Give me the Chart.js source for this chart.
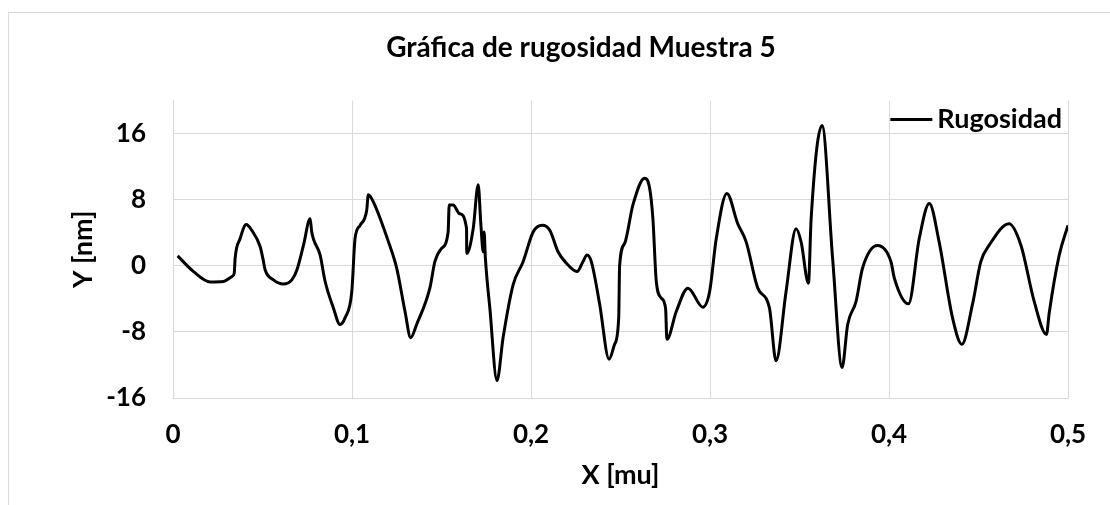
<!DOCTYPE html>
<html>
<head>
<meta charset="utf-8">
<script src="https://cdn.jsdelivr.net/npm/chart.js@4.4.1/dist/chart.umd.min.js"></script>
<style>
  html, body { margin: 0; padding: 0; background: #fff; overflow: hidden; width: 1110px; height: 505px; }
  #frame { position: absolute; left: 8px; top: 12px; width: 1200px; height: 600px; border: 1px solid #d9d9d9; }
  #chart { position: absolute; left: 0; top: 0; }
</style>
</head>
<body>
<div id="frame"><canvas id="chart" width="1144" height="493"></canvas></div>
<script>
// Perfil de rugosidad (X en mu, Y en nm)
const xValues = [
  0.0026, 0.0115, 0.0208, 0.0282, 0.0329, 0.0342, 0.0347, 0.0375, 0.0409, 0.0440,
  0.0487, 0.0502, 0.0515, 0.0561, 0.0617, 0.0664, 0.0692, 0.0729, 0.0766, 0.0775,
  0.0822, 0.0850, 0.0896, 0.0933, 0.0961, 0.0999, 0.1017, 0.1045, 0.1082, 0.1091,
  0.1119, 0.1207, 0.1250, 0.1296, 0.1328, 0.1361, 0.1435, 0.1463, 0.1500, 0.1537,
  0.1543, 0.1565, 0.1602, 0.1640, 0.1641, 0.1677, 0.1705, 0.1720, 0.1733, 0.1738,
  0.1745, 0.1770, 0.1810, 0.1844, 0.1900, 0.1956, 0.2012, 0.2064, 0.2105, 0.2151,
  0.2198, 0.2257, 0.2290, 0.2313, 0.2337, 0.2384, 0.2436, 0.2467, 0.2490, 0.2495,
  0.2523, 0.2569, 0.2635, 0.2663, 0.2681, 0.2700, 0.2728, 0.2752, 0.2759, 0.2812,
  0.2877, 0.2960, 0.2998, 0.3035, 0.3094, 0.3155, 0.3202, 0.3267, 0.3332, 0.3369,
  0.3425, 0.3481, 0.3509, 0.3550, 0.3565, 0.3626, 0.3685, 0.3738, 0.3769, 0.3816,
  0.3852, 0.3936, 0.4011, 0.4030, 0.4109, 0.4169, 0.4225, 0.4280, 0.4355, 0.4407,
  0.4466, 0.4513, 0.4560, 0.4671, 0.4737, 0.4811, 0.4880, 0.4895, 0.4951, 0.5000
];
const yValues = [
   1.2, -0.7, -1.95, -1.9, -1.3, -0.9,  0.9,  3.3,  5.0,  4.3,
   2.3,  0.9, -0.5, -1.7, -2.2, -1.7, -0.5,  2.5,  5.7,  4.1,
   1.3, -1.9, -5.1, -7.1, -6.3, -3.1,  3.3,  4.9,  6.7,  8.6,
   7.75, 2.7, -0.3, -5.5, -8.7, -7.1, -2.7,  0.5,  2.1,  4.1,
   7.35, 7.35, 6.3,  4.5,  1.5,  4.5,  9.8,  5.0,  1.7,  4.1,
   1.0, -5.1, -13.9, -8.7, -2.3,  0.5,  4.1,  4.9,  4.3,  1.7,
   0.3, -0.7,  0.5,  1.3,  0.5, -4.7, -11.3, -9.5, -6.3,  0.0,
   2.7,  7.35, 10.6, 9.35, 5.7, -1.9, -3.9, -5.2, -8.9, -5.5,
  -2.7, -5.0, -3.1,  3.3,  8.75, 5.1,  2.9, -2.7, -5.1, -11.5,
  -3.1,  4.5,  2.9, -2.1,  5.7, 17.0,  0.9, -12.3, -7.1, -4.3,
  -0.3,  2.45, 0.5, -1.5, -4.6,  3.3,  7.55, 2.9, -6.3, -9.5,
  -4.7,  0.5,  2.5,  5.1,  2.5, -4.3, -8.3, -5.7,  1.3,  4.9
];
const xTicks = [0, 0.1, 0.2, 0.3, 0.4, 0.5];
const yTicks = [-16, -8, 0, 8, 16];
const seriesLabel = 'Rugosidad';

const FONT = 'Lato, "Open Sans", sans-serif';
const GRID = '#d9d9d9';

const points = xValues.map((x, i) => ({ x, y: yValues[i] }));

// leyenda dentro del área de trazado, arriba a la derecha (como en Excel)
const insideLegend = {
  id: 'insideLegend',
  afterDraw(chart) {
    const { ctx, chartArea } = chart;
    const ds = chart.data.datasets[0];
    ctx.save();
    ctx.font = 'bold 27px ' + FONT;
    ctx.fillStyle = '#000';
    ctx.textBaseline = 'middle';
    ctx.textAlign = 'right';
    const y = chartArea.top + 19;
    const right = chartArea.right - 6;
    const w = ctx.measureText(ds.label).width;
    ctx.fillText(ds.label, right, y);
    const lineEnd = right - w - 5;
    ctx.strokeStyle = ds.borderColor;
    ctx.lineWidth = 3;
    ctx.beginPath();
    ctx.moveTo(lineEnd - 42, y);
    ctx.lineTo(lineEnd, y);
    ctx.stroke();
    ctx.restore();
  }
};

new Chart(document.getElementById('chart'), {
  type: 'line',
  data: {
    datasets: [{
      label: seriesLabel,
      data: points,
      borderColor: '#000',
      borderWidth: 3,
      pointRadius: 0,
      cubicInterpolationMode: 'monotone',
      fill: false,
    }]
  },
  options: {
    responsive: false,
    animation: false,
    layout: { padding: { left: 85, right: 85, top: 0, bottom: 0 } },
    plugins: {
      legend: { display: false },
      tooltip: { enabled: false },
      title: {
        display: true,
        text: 'Gráfica de rugosidad Muestra 5',
        color: '#000',
        font: { family: FONT, size: 28, weight: 'bold' },
        padding: { top: 18, bottom: 36 },
      },
    },
    scales: {
      x: {
        type: 'linear',
        min: 0, max: 0.5,
        afterBuildTicks(scale) { scale.ticks = xTicks.map(v => ({ value: v })); },
        afterFit(scale) { scale.height = 108; },
        grid: { color: GRID, lineWidth: 1, drawTicks: false },
        border: { color: GRID, width: 1 },
        ticks: {
          color: '#000', padding: 21,
          font: { family: FONT, size: 26, weight: 'bold' },
          callback: v => (v === 0 ? '0' : v.toFixed(1).replace('.', ',')),
        },
        title: {
          display: true, text: 'X [mu]', color: '#000',
          font: { family: FONT, size: 27, weight: 'bold' },
          padding: { top: 0, bottom: 15 },
        },
      },
      y: {
        min: -16, max: 20,
        afterBuildTicks(scale) { scale.ticks = yTicks.map(v => ({ value: v })); },
        afterFit(scale) { scale.width = 79; },
        grid: { color: GRID, lineWidth: 1, drawTicks: false },
        border: { color: GRID, width: 1 },
        ticks: {
          color: '#000', padding: 27,
          font: { family: FONT, size: 26, weight: 'bold' },
        },
        title: {
          display: true, text: 'Y [nm]', color: '#000',
          font: { family: FONT, size: 27, weight: 'bold' },
          padding: { top: -27, bottom: 0 },
        },
      },
    },
  },
  plugins: [insideLegend],
});
</script>
</body>
</html>
